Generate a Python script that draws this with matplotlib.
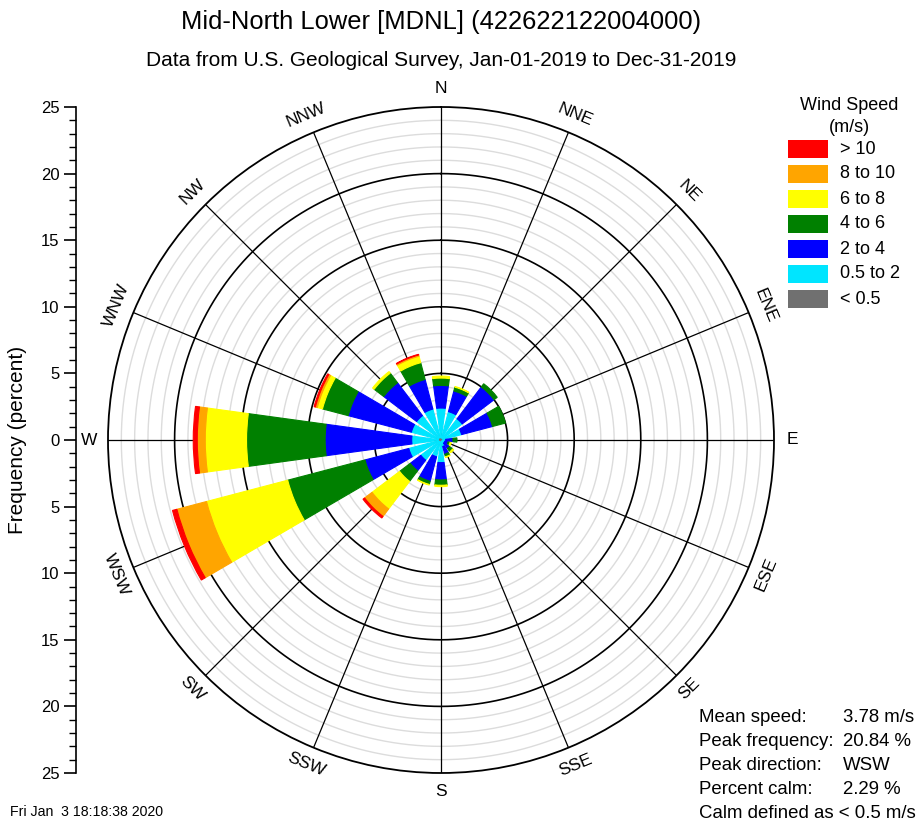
import numpy as np
import matplotlib
matplotlib.use("Agg")
import matplotlib.pyplot as plt
from matplotlib.patches import Rectangle

plt.rcParams['font.family'] = ['Liberation Sans', 'DejaVu Sans']

# ---------------- data ----------------
directions = ["N", "NNE", "NE", "ENE", "E", "ESE", "SE", "SSE",
              "S", "SSW", "SW", "WSW", "W", "WNW", "NW", "NNW"]
speed_labels = ["< 0.5", "0.5 to 2", "2 to 4", "4 to 6", "6 to 8", "8 to 10", "> 10"]
speed_colors = ["#707070", "#00E5FF", "#0000FF", "#008000", "#FFFF00", "#FFA500", "#FF0000"]

# percent frequency per direction for each speed class
calm_lt05 = [0.15, 0.15, 0.15, 0.15, 0.15, 0.10, 0.10, 0.10, 0.15, 0.15, 0.15, 0.20, 0.20, 0.20, 0.20, 0.20]
spd_05_2  = [2.25, 2.05, 1.85, 1.45, 0.20, 0.20, 0.20, 0.40, 1.55, 1.15, 1.75, 2.30, 2.00, 2.10, 2.10, 2.20]
spd_2_4   = [1.70, 1.60, 3.00, 2.40, 0.55, 0.25, 0.50, 0.60, 1.30, 1.90, 1.00, 3.40, 6.50, 4.90, 3.10, 2.30]
spd_4_6   = [0.55, 0.30, 0.30, 1.00, 0.30, 0.15, 0.30, 0.20, 0.40, 0.25, 1.00, 6.00, 5.90, 2.00, 0.90, 1.30]
spd_6_8   = [0.15, 0.05, 0.00, 0.00, 0.00, 0.10, 0.10, 0.05, 0.10, 0.05, 2.60, 6.30, 3.10, 0.40, 0.15, 0.50]
spd_8_10  = [0.00, 0.00, 0.00, 0.00, 0.00, 0.00, 0.00, 0.00, 0.00, 0.00, 0.70, 2.30, 0.60, 0.15, 0.00, 0.10]
spd_gt10  = [0.00, 0.00, 0.00, 0.00, 0.00, 0.00, 0.00, 0.00, 0.00, 0.00, 0.15, 0.34, 0.30, 0.10, 0.00, 0.05]

series = [calm_lt05, spd_05_2, spd_2_4, spd_4_6, spd_6_8, spd_8_10, spd_gt10]

title = "Mid-North Lower [MDNL] (422622122004000)"
subtitle = "Data from U.S. Geological Survey, Jan-01-2019 to Dec-31-2019"
stats_names = ["Mean speed:", "Peak frequency:", "Peak direction:", "Percent calm:", "Calm defined as < 0.5 m/s"]
stats_values = ["3.78 m/s", "20.84 %", "WSW", "2.29 %", ""]
timestamp = "Fri Jan  3 18:18:38 2020"
rmax = 25

# ---------------- figure ----------------
W, H = 917, 825
fig = plt.figure(figsize=(W / 100, H / 100), dpi=100)

cx, cy, R = 441, 440, 333
ax = fig.add_axes([(cx - R) / W, (H - cy - R) / H, 2 * R / W, 2 * R / H], projection='polar')
ax.set_theta_zero_location('N')
ax.set_theta_direction(-1)
ax.set_ylim(0, rmax)
ax.grid(False)
ax.set_xticks([])
ax.set_yticks([])
ax.spines['polar'].set_color('black')
ax.spines['polar'].set_linewidth(1.3)

# grid circles
tt = np.linspace(0, 2 * np.pi, 721)
for r in range(1, rmax):
    if r % 5 == 0:
        ax.plot(tt, np.full_like(tt, r), color='black', lw=1.2, zorder=1)
    else:
        ax.plot(tt, np.full_like(tt, r), color='#DCDCDC', lw=1.0, zorder=0.5)

thetas = np.deg2rad(np.arange(16) * 22.5)
for th in thetas:
    ax.plot([th, th], [0, rmax], color='black', lw=0.9, zorder=1)

# stacked bars
width = np.deg2rad(15.6)
bottom = np.zeros(16)
for vals, col in zip(series, speed_colors):
    v = np.array(vals)
    edges = [col if x > 0 else 'none' for x in v]
    bars = ax.bar(thetas, v, width=width, bottom=bottom, color=col,
                  linewidth=0.8, zorder=3)
    for b, e in zip(bars, edges):
        b.set_edgecolor(e)
        if e == 'none':
            b.set_visible(False)
    bottom = bottom + v

# direction labels
for name, th in zip(directions, np.arange(16) * 22.5):
    if th in (90, 270):
        rot = 0
    elif th < 90 or th > 270:
        rot = -th
    else:
        rot = 180 - th
    ax.text(np.deg2rad(th), 26.4, name, rotation=rot, ha='center', va='center',
            fontsize=12.5, rotation_mode='anchor', clip_on=False)

# left frequency axis
ax2 = fig.add_axes([76 / W, (H - cy - R) / H, 0.0001, 2 * R / H])
ax2.set_ylim(-rmax, rmax)
ax2.set_xticks([])
for s in ['top', 'right', 'bottom']:
    ax2.spines[s].set_visible(False)
ax2.spines['left'].set_linewidth(1.2)
ax2.set_yticks(np.arange(-25, 26, 5))
ax2.set_yticklabels([str(abs(v)) for v in range(-25, 26, 5)][::-1], fontsize=12)
ax2.set_yticks(np.arange(-25, 26, 1), minor=True)
ax2.tick_params(axis='y', which='major', length=9, width=1.2, direction='out', pad=3)
ax2.tick_params(axis='y', which='minor', length=5, width=1.0, direction='out')
ax2.invert_yaxis()
ax2.patch.set_visible(False)

# titles and labels
fig.text(441 / W, 1 - 22 / H, title, ha='center', va='center', fontsize=18.4)
fig.text(441 / W, 1 - 60 / H, subtitle, ha='center', va='center', fontsize=15)
fig.text(18 / W, 1 - 440 / H, "Frequency (percent)", rotation=90, ha='center', va='center', fontsize=15)

# legend
fig.text(849 / W, 1 - 106 / H, "Wind Speed", ha='center', va='center', fontsize=13)
fig.text(849 / W, 1 - 128 / H, "(m/s)", ha='center', va='center', fontsize=13)
for i, (lab, col) in enumerate(zip(speed_labels[::-1], speed_colors[::-1])):
    yc = 149 + 25 * i
    fig.patches.append(Rectangle((788 / W, 1 - (yc + 9) / H), 40 / W, 18 / H,
                                 transform=fig.transFigure, facecolor=col, edgecolor='none'))
    fig.text(840 / W, 1 - yc / H, lab, ha='left', va='center', fontsize=13)

# stats
for i, (n, v) in enumerate(zip(stats_names, stats_values)):
    yc = 717 + 24 * i
    fig.text(699 / W, 1 - yc / H, n, ha='left', va='center', fontsize=13.4)
    if v:
        fig.text(843 / W, 1 - yc / H, v, ha='left', va='center', fontsize=13.4)

fig.text(10 / W, 1 - 812 / H, timestamp, ha='left', va='center', fontsize=10.2)

fig.savefig("out.png", dpi=100)
